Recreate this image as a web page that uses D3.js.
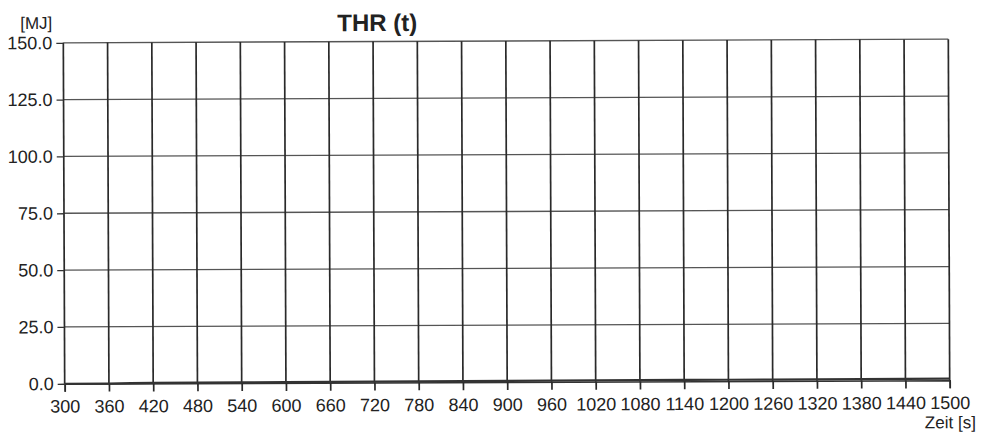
<!DOCTYPE html>
<html>
<head>
<meta charset="utf-8">
<script src="https://cdn.jsdelivr.net/npm/d3@7"></script>
<style>
  body { margin: 0; background: #fff; }
  text { font-family: "Liberation Sans", Arial, sans-serif; fill: #222; }
</style>
</head>
<body>
<svg id="chart" width="982" height="434"></svg>
<script>
// THR(t) - total heat release
var xTicks = d3.range(300, 1501, 60);
var yTicks = [0, 25, 50, 75, 100, 125, 150];

var timeS = [300, 360, 390, 420, 480, 540, 600, 660, 720, 780, 840, 900, 960, 1020, 1080, 1140, 1200, 1260, 1320, 1380, 1440, 1500];
var thrMJ = [0.0, 0.0, 0.15, 0.2, 0.25, 0.3, 0.35, 0.4, 0.4, 0.45, 0.45, 0.5, 0.5, 0.55, 0.55, 0.6, 0.6, 0.6, 0.65, 0.65, 0.7, 0.7];

var M = {left: 64, top: 41, right: 33, bottom: 52};
var W = 982 - M.left - M.right;
var H = 434 - M.top - M.bottom;

var svg = d3.select("#chart");
// scan is a little crooked
var g = svg.append("g")
    .attr("transform", "rotate(-0.23 506 212) translate(" + M.left + "," + M.top + ")");

var x = d3.scaleLinear().domain([300, 1500]).range([0, W]);
var y = d3.scaleLinear().domain([0, 150]).range([H, 0]);

// horizontal grid
g.selectAll(".hgrid")
    .data(yTicks.filter(function(d){ return d > 0; }))
  .enter().append("line")
    .attr("x1", 0).attr("x2", W)
    .attr("y1", function(d){ return y(d); })
    .attr("y2", function(d){ return y(d); })
    .attr("stroke", "#555").attr("stroke-width", 1.3);

// vertical grid
g.selectAll(".vgrid")
    .data(xTicks)
  .enter().append("line")
    .attr("x1", function(d){ return x(d); })
    .attr("x2", function(d){ return x(d); })
    .attr("y1", 0).attr("y2", H)
    .attr("stroke", "#2a2a2a").attr("stroke-width", 1.7);

// y axis
var yAxis = g.append("g")
    .call(d3.axisLeft(y).tickValues(yTicks).tickSize(7).tickPadding(4).tickFormat(d3.format(".1f")));
yAxis.select(".domain").remove();
yAxis.selectAll("line").attr("stroke", "#333").attr("stroke-width", 1.3);
yAxis.selectAll("text").style("font-size", "18px").attr("fill", "#262626");

// x axis
var xAxis = g.append("g")
    .attr("transform", "translate(0," + H + ")")
    .call(d3.axisBottom(x).tickValues(xTicks).tickSize(8).tickPadding(8).tickFormat(d3.format("d")));
xAxis.select(".domain").attr("stroke", "#333").attr("stroke-width", 1.5);
xAxis.selectAll("line").attr("stroke", "#2a2a2a").attr("stroke-width", 1.7);
xAxis.selectAll("text").style("font-size", "18px").attr("fill", "#262626");

// data line
var line = d3.line()
    .x(function(d, i){ return x(timeS[i]); })
    .y(function(d){ return y(d); });
g.append("path")
    .datum(thrMJ)
    .attr("d", line)
    .attr("fill", "none")
    .attr("stroke", "#333")
    .attr("stroke-width", 2.2);

// labels
g.append("text")
    .attr("x", 314).attr("y", -10.5)
    .attr("text-anchor", "middle")
    .style("font-size", "24px").style("font-weight", "bold")
    .text("THR (t)");

g.append("text")
    .attr("x", -11).attr("y", -14)
    .attr("text-anchor", "end")
    .style("font-size", "17px")
    .text("[MJ]");

g.append("text")
    .attr("x", W + 26).attr("y", H + 48)
    .attr("text-anchor", "end")
    .style("font-size", "17px")
    .text("Zeit [s]");
</script>
</body>
</html>
